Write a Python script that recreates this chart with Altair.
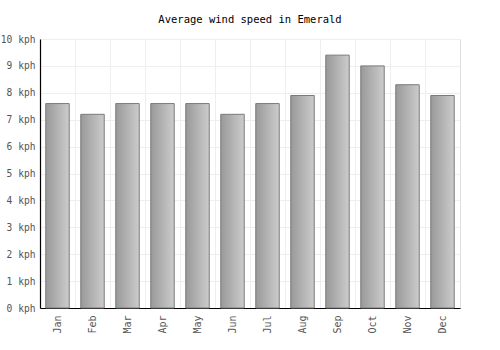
import altair as alt
import pandas as pd

months = ["Jan", "Feb", "Mar", "Apr", "May", "Jun", "Jul", "Aug", "Sep", "Oct", "Nov", "Dec"]
wind_kph = [7.6, 7.2, 7.6, 7.6, 7.6, 7.2, 7.6, 7.9, 9.4, 9.0, 8.3, 7.9]

df = pd.DataFrame({"month": months, "wind": wind_kph})

font = "DejaVu Sans Mono"

chart = alt.Chart(df).mark_bar(
    width=alt.RelativeBandSize(0.67),
    stroke="#7a7a7a",
    strokeWidth=1,
    fill=alt.Gradient(
        gradient="linear",
        x1=0, x2=1, y1=0, y2=0,
        stops=[alt.GradientStop(color="#999999", offset=0),
               alt.GradientStop(color="#cccccc", offset=1)],
    ),
).encode(
    x=alt.X("month:N", sort=months, title=None,
            scale=alt.Scale(paddingInner=0, paddingOuter=0),
            axis=alt.Axis(labelAngle=-90, labelFont=font, labelFontSize=10,
                          labelColor="#555555", ticks=False, labelPadding=7,
                          domainColor="#000000", domainWidth=1.2,
                          grid=True, gridColor="#eeeeee", bandPosition=0,
                          labelBaseline="middle", labelAlign="right")),
    y=alt.Y("wind:Q", title=None,
            scale=alt.Scale(domain=[0, 10], nice=False),
            axis=alt.Axis(values=list(range(0, 11)), labelExpr="datum.value + ' kph'",
                          labelFont=font, labelFontSize=9.6, labelColor="#555555",
                          ticks=False, labelPadding=5,
                          domainColor="#000000", domainWidth=1.2,
                          grid=True, gridColor="#eeeeee")),
).properties(
    width=420,
    height=269,
    title=alt.TitleParams("Average wind speed in Emerald", font=font, fontSize=10.5,
                          fontWeight="normal", color="#000000", anchor="middle", offset=9),
    autosize=alt.AutoSizeParams(type="none"),
    padding={"left": 40, "top": 39, "right": 40, "bottom": 42},
).configure_view(
    stroke="#eeeeee"
).configure(background="white")

chart.save("out.html", embed_options={"renderer": "svg", "actions": False})
